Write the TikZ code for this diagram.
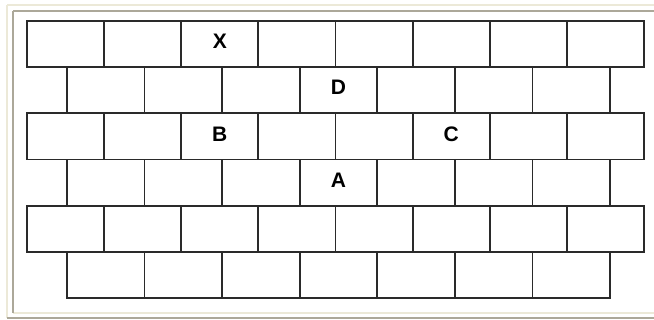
\documentclass[tikz,border=0pt]{standalone}
\usepackage{fontspec}
\setmainfont{Liberation Sans}
\usepackage{tikz}
\usetikzlibrary{positioning,calc}
\definecolor{frameLight}{HTML}{ECE9D8}
\definecolor{frameDark}{HTML}{ACA899}
\definecolor{brickLine}{HTML}{2A2A2A}
\tikzset{
    brick/.style={
        draw=brickLine,
        line width=1.8pt
    },
    % etched frame round the panel
    etchLight/.style={draw=frameLight, line width=2pt},
    etchDark/.style={draw=frameDark, line width=2pt},
    letter/.style={
        font=\fontsize{21}{21}\selectfont\bfseries,
        inner sep=0pt
    }
}

\begin{document}
\begin{tikzpicture}[x=1pt, y=-1pt]
\useasboundingbox (0,0) rectangle (654,320);

% frame
\draw[etchLight] (7,5) -- (660,5);
\draw[etchLight] (7,5) -- (7,318);
\draw[etchLight] (13,313) -- (660,313);
\draw[etchDark] (13,11) -- (660,11);
\draw[etchDark] (13,11) -- (13,313);
\draw[etchDark] (7,318) -- (660,318);

% long rows: 8 bricks, short rows: 7 bricks
\foreach \r in {0,2,4} {
    \foreach \b in {0,...,7} {
        \draw[brick] ({27+77.125*\b},{21+46.17*\r}) rectangle ++(77.125,46.17);
    }
}
\foreach \r in {1,3,5} {
    \foreach \b in {0,...,6} {
        \draw[brick] ({67+77.57*\b},{21+46.17*\r}) rectangle ++(77.57,46.17);
    }
}

% letters
\node[letter] (X) at (219.8,41.5) {X};
\node[letter] (D) at (338.5,87.5) {D};
\node[letter] (B) at (219.8,134) {B};
\node[letter] (C) at (451.2,134) {C};
\node[letter] (A) at (338.5,180) {A};
\end{tikzpicture}
\end{document}
